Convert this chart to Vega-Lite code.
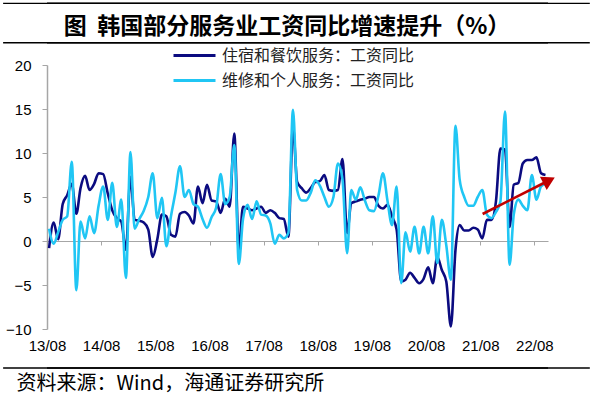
{
  "$schema": "https://vega.github.io/schema/vega-lite/v6.json",
  "width": 501,
  "height": 264,
  "autosize": {"type": "none"},
  "padding": {"left": 47, "top": 65, "right": 46, "bottom": 68},
  "background": "white",
  "config": {
    "view": {"stroke": null},
    "legend": {"padding": 0}
  },
  "datasets": {
    "wages": [
      {"d":"2013-08-15","a":-0.8,"b":1.4},{"d":"2013-09-15","a":2.1,"b":-0.3},{"d":"2013-10-15","a":0.2,"b":1.0},{"d":"2013-11-15","a":4.2,"b":2.4},{"d":"2013-12-15","a":5.2,"b":2.8},
      {"d":"2014-01-15","a":6.5,"b":9.0},{"d":"2014-02-15","a":3.1,"b":-5.6},{"d":"2014-03-15","a":6.0,"b":2.2},{"d":"2014-04-15","a":7.4,"b":0.3},{"d":"2014-05-15","a":5.8,"b":2.8},
      {"d":"2014-06-15","a":6.5,"b":0.9},{"d":"2014-07-15","a":7.7,"b":4.0},{"d":"2014-08-15","a":7.6,"b":6.2},{"d":"2014-09-15","a":5.4,"b":2.4},{"d":"2014-10-15","a":3.5,"b":6.6},
      {"d":"2014-11-15","a":2.6,"b":1.6},{"d":"2014-12-15","a":2.2,"b":4.7},{"d":"2015-01-15","a":-1.0,"b":-4.2},{"d":"2015-02-15","a":7.3,"b":10.1},{"d":"2015-03-15","a":2.4,"b":1.4},
      {"d":"2015-04-15","a":2.3,"b":2.5},{"d":"2015-05-15","a":2.1,"b":3.4},{"d":"2015-06-15","a":1.3,"b":5.0},{"d":"2015-07-15","a":-1.8,"b":7.7},{"d":"2015-08-15","a":0.2,"b":2.6},
      {"d":"2015-09-15","a":3.0,"b":4.9},{"d":"2015-10-15","a":2.8,"b":-0.6},{"d":"2015-11-15","a":0.7,"b":2.8},{"d":"2015-12-15","a":0.5,"b":5.5},{"d":"2016-01-15","a":3.1,"b":8.5},
      {"d":"2016-02-15","a":3.3,"b":5.0},{"d":"2016-03-15","a":2.9,"b":5.8},{"d":"2016-04-15","a":2.0,"b":4.2},{"d":"2016-05-15","a":6.2,"b":3.9},{"d":"2016-06-15","a":4.3,"b":2.5},
      {"d":"2016-07-15","a":6.4,"b":1.5},{"d":"2016-08-15","a":4.6,"b":2.7},{"d":"2016-09-15","a":4.5,"b":3.8},{"d":"2016-10-15","a":3.2,"b":7.6},{"d":"2016-11-15","a":4.8,"b":4.2},
      {"d":"2016-12-15","a":3.9,"b":5.0},{"d":"2017-01-15","a":12.2,"b":10.9},{"d":"2017-02-15","a":-1.0,"b":-2.6},{"d":"2017-03-15","a":3.9,"b":2.5},{"d":"2017-04-15","a":3.7,"b":4.1},
      {"d":"2017-05-15","a":3.5,"b":2.5},{"d":"2017-06-15","a":3.7,"b":4.5},{"d":"2017-07-15","a":3.9,"b":3.0},{"d":"2017-08-15","a":3.2,"b":2.9},{"d":"2017-09-15","a":3.5,"b":2.0},
      {"d":"2017-10-15","a":3.2,"b":-0.3},{"d":"2017-11-15","a":2.6,"b":0.7},{"d":"2017-12-15","a":2.5,"b":0.3},{"d":"2018-01-15","a":0.5,"b":0.9},{"d":"2018-02-15","a":13.0,"b":14.9},
      {"d":"2018-03-15","a":6.7,"b":5.8},{"d":"2018-04-15","a":6.0,"b":4.6},{"d":"2018-05-15","a":5.5,"b":4.6},{"d":"2018-06-15","a":6.0,"b":5.5},{"d":"2018-07-15","a":6.7,"b":6.9},
      {"d":"2018-08-15","a":6.8,"b":6.3},{"d":"2018-09-15","a":7.5,"b":5.0},{"d":"2018-10-15","a":5.8,"b":3.9},{"d":"2018-11-15","a":5.7,"b":5.0},{"d":"2018-12-15","a":5.8,"b":8.8},
      {"d":"2019-01-15","a":9.3,"b":7.0},{"d":"2019-02-15","a":0.9,"b":-1.4},{"d":"2019-03-15","a":4.3,"b":5.8},{"d":"2019-04-15","a":4.5,"b":4.7},{"d":"2019-05-15","a":4.7,"b":6.1},
      {"d":"2019-06-15","a":4.8,"b":4.6},{"d":"2019-07-15","a":5.0,"b":3.5},{"d":"2019-08-15","a":5.0,"b":3.4},{"d":"2019-09-15","a":4.0,"b":5.2},{"d":"2019-10-15","a":3.7,"b":7.7},
      {"d":"2019-11-15","a":4.1,"b":4.5},{"d":"2019-12-15","a":2.8,"b":1.8},{"d":"2020-01-15","a":1.3,"b":6.2},{"d":"2020-02-15","a":-4.6,"b":-4.8},{"d":"2020-03-15","a":-4.4,"b":1.0},
      {"d":"2020-04-15","a":-3.6,"b":-1.2},{"d":"2020-05-15","a":-4.2,"b":1.6},{"d":"2020-06-15","a":-4.8,"b":-1.4},{"d":"2020-07-15","a":-4.3,"b":1.6},{"d":"2020-08-15","a":-3.0,"b":-1.4},
      {"d":"2020-09-15","a":-4.8,"b":2.8},{"d":"2020-10-15","a":-1.8,"b":-2.5},{"d":"2020-11-15","a":-3.3,"b":2.4},{"d":"2020-12-15","a":-4.6,"b":-0.5},{"d":"2021-01-15","a":-9.7,"b":-4.4},
      {"d":"2021-02-15","a":-1.0,"b":13.1},{"d":"2021-03-15","a":1.8,"b":7.0},{"d":"2021-04-15","a":1.2,"b":5.0},{"d":"2021-05-15","a":1.2,"b":4.0},{"d":"2021-06-15","a":1.5,"b":4.0},
      {"d":"2021-07-15","a":1.3,"b":5.0},{"d":"2021-08-15","a":0.3,"b":5.8},{"d":"2021-09-15","a":2.4,"b":3.0},{"d":"2021-10-15","a":2.4,"b":2.6},{"d":"2021-11-15","a":4.5,"b":3.3},
      {"d":"2021-12-15","a":10.5,"b":4.5},{"d":"2022-01-15","a":10.4,"b":14.7},{"d":"2022-02-15","a":1.6,"b":-2.7},{"d":"2022-03-15","a":6.4,"b":3.0},{"d":"2022-04-15","a":6.6,"b":4.7},
      {"d":"2022-05-15","a":8.8,"b":4.0},{"d":"2022-06-15","a":9.2,"b":3.5},{"d":"2022-07-15","a":9.2,"b":7.5},{"d":"2022-08-15","a":9.5,"b":4.7},{"d":"2022-09-15","a":7.7,"b":6.2},
      {"d":"2022-10-15","a":7.5,"b":6.5}
    ],
    "arrow": [{"d1":"2021-08-17","v1":3.07,"d2":"2022-10-11","v2":6.65,"tip":"2022-11-08","vt":6.875}],
    "frame": [
      {"t":"2012-10-09","v":27.01,"g":"top"},{"t":"2023-08-10","v":27.01,"g":"top"},
      {"t":"2012-10-09","v":22.53,"g":"mid"},{"t":"2023-08-10","v":22.53,"g":"mid"},
      {"t":"2012-10-09","v":-14.43,"g":"bottom"},{"t":"2023-08-10","v":-14.43,"g":"bottom"}
    ]
  },
  "encoding": {
    "x": {
      "type": "temporal",
      "scale": {"type": "utc", "domain": [{"year":2013,"month":8,"date":1,"utc":true},{"year":2022,"month":11,"date":1,"utc":true}]},
      "axis": {
        "values": [
          {"year":2013,"month":8,"date":1,"utc":true},{"year":2014,"month":8,"date":1,"utc":true},{"year":2015,"month":8,"date":1,"utc":true},
          {"year":2016,"month":8,"date":1,"utc":true},{"year":2017,"month":8,"date":1,"utc":true},{"year":2018,"month":8,"date":1,"utc":true},
          {"year":2019,"month":8,"date":1,"utc":true},{"year":2020,"month":8,"date":1,"utc":true},{"year":2021,"month":8,"date":1,"utc":true},
          {"year":2022,"month":8,"date":1,"utc":true}
        ],
        "format": "%y/%m",
        "offset": -88,
        "grid": false,
        "domainColor": "#a6a6a6",
        "domainWidth": 1.2,
        "tickColor": "#a6a6a6",
        "tickSize": 4,
        "labelPadding": 93,
        "labelFont": "Liberation Sans",
        "labelFontSize": 15,
        "labelColor": "black",
        "labelFlush": false,
        "labelOverlap": false,
        "title": "资料来源：Wind，海通证券研究所",
        "titleFont": "Noto Sans CJK SC",
        "titleFontSize": 20,
        "titleFontWeight": "normal",
        "titleColor": "black",
        "titleAlign": "left",
        "titleAnchor": "start",
        "titleBaseline": "middle",
        "titleX": -31,
        "titleY": 142
      }
    }
  },
  "layer": [
    {
      "data": {"name": "frame"},
      "mark": {"type": "line", "color": "black", "strokeWidth": 1.3, "clip": false},
      "encoding": {
        "x": {"field": "t", "type": "temporal"},
        "y": {"field": "v", "type": "quantitative"},
        "detail": {"field": "g", "type": "nominal"}
      }
    },
    {
      "data": {"values": [{}]},
      "mark": {"type": "rule", "color": "black", "strokeWidth": 1.3, "clip": false},
      "encoding": {"y": {"datum": 22.53, "type": "quantitative"}}
    },
    {
      "data": {"values": [{}]},
      "mark": {"type": "rule", "color": "black", "strokeWidth": 1.3, "clip": false},
      "encoding": {"y": {"datum": -14.43, "type": "quantitative"}}
    },
    {
      "data": {"values": [{}]},
      "mark": {"type": "rule", "color": "black", "strokeWidth": 1.5, "clip": false},
      "encoding": {"y": {"datum": 27.01, "type": "quantitative"}}
    },
    {
      "data": {"name": "wages"},
      "transform": [{"fold": ["a", "b"], "as": ["series", "value"]}],
      "mark": {"type": "line", "interpolate": "monotone", "strokeWidth": 2.6},
      "encoding": {
        "x": {"field": "d", "type": "temporal"},
        "y": {
          "field": "value",
          "type": "quantitative",
          "scale": {"domain": [-10, 20], "nice": false, "zero": false},
          "axis": {
            "values": [-10, -5, 0, 5, 10, 15, 20],
            "grid": false,
            "domainColor": "#a6a6a6",
            "domainWidth": 1.5,
            "tickColor": "#a6a6a6",
            "tickSize": 5,
            "labelPadding": 11,
            "labelFont": "Liberation Sans",
            "labelFontSize": 15,
            "labelColor": "black",
            "title": null
          }
        },
        "color": {
          "field": "series",
          "type": "nominal",
          "scale": {"domain": ["a", "b"], "range": ["#0b0b80", "#20c6f4"]},
          "legend": {
            "title": null,
            "orient": "none",
            "legendX": 135.5,
            "legendY": -21.5,
            "direction": "vertical",
            "symbolType": "M-2,0H2",
            "symbolSize": 441,
            "symbolStrokeWidth": 3,
            "labelOffset": 15.5,
            "rowPadding": 5,
            "labelLimit": 400,
            "labelFont": "Noto Sans CJK SC",
            "labelFontSize": 16,
            "labelColor": "#222222",
            "labelExpr": "datum.value == 'a' ? '住宿和餐饮服务：工资同比' : '维修和个人服务：工资同比'"
          }
        }
      }
    },
    {
      "data": {"name": "arrow"},
      "mark": {"type": "rule", "color": "#c00000", "strokeWidth": 2.6},
      "encoding": {
        "x": {"field": "d1", "type": "temporal"},
        "x2": {"field": "d2"},
        "y": {"field": "v1", "type": "quantitative"},
        "y2": {"field": "v2"}
      }
    },
    {
      "data": {"name": "arrow"},
      "mark": {"type": "point", "shape": "triangle-right", "filled": true, "color": "#c00000", "opacity": 1, "size": 220, "angle": -27},
      "encoding": {
        "x": {"field": "tip", "type": "temporal"},
        "y": {"field": "vt", "type": "quantitative"}
      }
    },
    {
      "data": {"values": [{}]},
      "mark": {"type": "text", "text": "图\u00a0\u00a0韩国部分服务业工资同比增速提升（%）", "font": "Noto Sans CJK SC", "fontSize": 23, "fontWeight": "bold", "align": "center", "baseline": "middle", "color": "black"},
      "encoding": {
        "x": {"datum": {"year":2018,"month":1,"date":6,"utc":true}, "type": "temporal"},
        "y": {"datum": 24.35, "type": "quantitative"}
      }
    }
  ]
}
